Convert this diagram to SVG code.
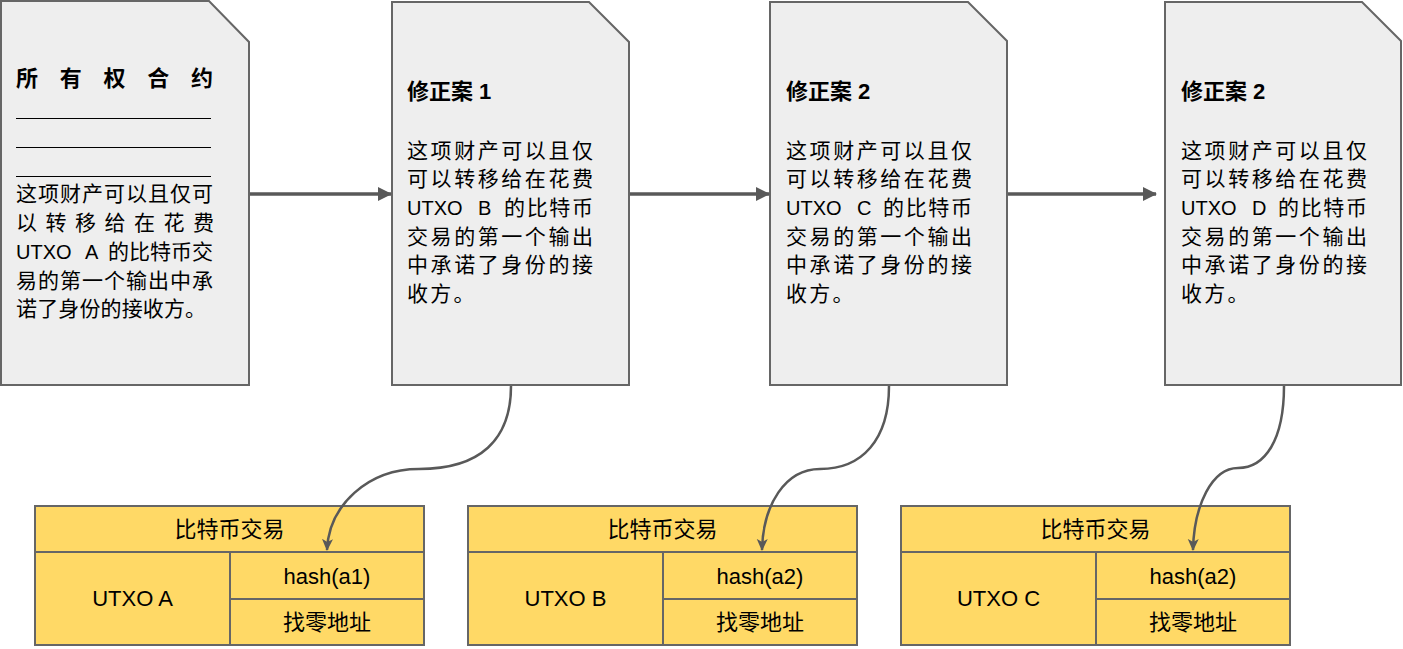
<svg xmlns="http://www.w3.org/2000/svg" width="1403" height="649" viewBox="0 0 1403 649">
<style>
.doc{fill:#eeeeee;stroke:#666666;stroke-width:2;}
.cell{fill:#ffd966;stroke:#666666;stroke-width:2;}
.t{font-family:"Liberation Sans","Noto Sans CJK SC",sans-serif;fill:#000000;}
.body{font-size:21px;}
.lat{font-size:20px;}
.title{font-size:22px;font-weight:bold;}
.tbl{font-size:22px;text-anchor:middle;}
.rule{stroke:#000000;stroke-width:1;}
.conn{fill:none;stroke:#595959;}
.straight{stroke-width:3.5;}
.curve{stroke-width:2.5;}
</style>
<defs>
<marker id="ah" viewBox="0 0 14 14" refX="13" refY="7" markerWidth="14" markerHeight="14" markerUnits="userSpaceOnUse" orient="auto">
<path d="M0,0 L14,7 L0,14 Z" fill="#595959"/>
</marker>
<marker id="ac" viewBox="0 0 12 12" refX="11" refY="6" markerWidth="12" markerHeight="12" markerUnits="userSpaceOnUse" orient="auto">
<path d="M0,0.5 L12,6 L0,11.5 L3,6 Z" fill="#595959"/>
</marker>
</defs>

<g id="doc1">
<path class="doc" d="M1,1 H209 L249,42 V385 H1 Z"/>
<text class="t title" x="16" y="86" textLength="197" lengthAdjust="spacing">所有权合约</text>
<line class="rule" x1="16" y1="118.5" x2="211" y2="118.5"/>
<line class="rule" x1="16" y1="147.5" x2="211" y2="147.5"/>
<line class="rule" x1="16" y1="176.5" x2="211" y2="176.5"/>
<text class="t body" x="16" y="200.5" textLength="197" lengthAdjust="spacing">这项财产可以且仅可</text>
<text class="t body" x="16 45.5 75 104.5 134 163.5 193" y="229.5">以转移给在花费</text>
<text class="t body" y="258.5"><tspan class="lat" x="16">UTXO</tspan><tspan class="lat" x="85">A</tspan><tspan x="108" textLength="105" lengthAdjust="spacing">的比特币交</tspan></text>
<text class="t body" x="16" y="287.5" textLength="197" lengthAdjust="spacing">易的第一个输出中承</text>
<text class="t body" x="16" y="316" textLength="190" lengthAdjust="spacing">诺了身份的接收方。</text>
</g>

<g id="doc2">
<path class="doc" d="M392,2 H589 L629,42 V385 H392 Z"/>
<text class="t title" x="407" y="99">修正案 1</text>
<text class="t body" x="407" y="157.5" textLength="186" lengthAdjust="spacing">这项财产可以且仅</text>
<text class="t body" x="407" y="186.2" textLength="186" lengthAdjust="spacing">可以转移给在花费</text>
<text class="t body" y="214.9"><tspan class="lat" x="407">UTXO</tspan><tspan class="lat" x="478">B</tspan><tspan x="504" textLength="89" lengthAdjust="spacing">的比特币</tspan></text>
<text class="t body" x="407" y="243.6" textLength="186" lengthAdjust="spacing">交易的第一个输出</text>
<text class="t body" x="407" y="272.3" textLength="186" lengthAdjust="spacing">中承诺了身份的接</text>
<text class="t body" x="407 430.3 453.6" y="301">收方。</text>
</g>

<g id="doc3">
<path class="doc" d="M770,2 H968 L1007,41 V385 H770 Z"/>
<text class="t title" x="786" y="99">修正案 2</text>
<text class="t body" x="786" y="157.5" textLength="186" lengthAdjust="spacing">这项财产可以且仅</text>
<text class="t body" x="786" y="186.2" textLength="186" lengthAdjust="spacing">可以转移给在花费</text>
<text class="t body" y="214.9"><tspan class="lat" x="786">UTXO</tspan><tspan class="lat" x="857">C</tspan><tspan x="883" textLength="89" lengthAdjust="spacing">的比特币</tspan></text>
<text class="t body" x="786" y="243.6" textLength="186" lengthAdjust="spacing">交易的第一个输出</text>
<text class="t body" x="786" y="272.3" textLength="186" lengthAdjust="spacing">中承诺了身份的接</text>
<text class="t body" x="786 809.3 832.6" y="301">收方。</text>
</g>

<g id="doc4">
<path class="doc" d="M1165,2 H1362 L1401,41 V385 H1165 Z"/>
<text class="t title" x="1181" y="99">修正案 2</text>
<text class="t body" x="1181" y="157.5" textLength="186" lengthAdjust="spacing">这项财产可以且仅</text>
<text class="t body" x="1181" y="186.2" textLength="186" lengthAdjust="spacing">可以转移给在花费</text>
<text class="t body" y="214.9"><tspan class="lat" x="1181">UTXO</tspan><tspan class="lat" x="1252">D</tspan><tspan x="1278" textLength="89" lengthAdjust="spacing">的比特币</tspan></text>
<text class="t body" x="1181" y="243.6" textLength="186" lengthAdjust="spacing">交易的第一个输出</text>
<text class="t body" x="1181" y="272.3" textLength="186" lengthAdjust="spacing">中承诺了身份的接</text>
<text class="t body" x="1181 1204.3 1227.6" y="301">收方。</text>
</g>

<g id="txA">
<rect class="cell" x="35" y="506" width="389" height="46"/>
<rect class="cell" x="35" y="552" width="195" height="93"/>
<rect class="cell" x="230" y="552" width="194" height="47"/>
<rect class="cell" x="230" y="599" width="194" height="46"/>
<text class="t tbl" x="229.5" y="537">比特币交易</text>
<text class="t tbl" x="132.5" y="606">UTXO A</text>
<text class="t tbl" x="327" y="583.5">hash(a1)</text>
<text class="t tbl" x="327" y="630">找零地址</text>
</g>

<g id="txB">
<rect class="cell" x="468" y="506" width="389" height="46"/>
<rect class="cell" x="468" y="552" width="195" height="93"/>
<rect class="cell" x="663" y="552" width="194" height="47"/>
<rect class="cell" x="663" y="599" width="194" height="46"/>
<text class="t tbl" x="662.5" y="537">比特币交易</text>
<text class="t tbl" x="565.5" y="606">UTXO B</text>
<text class="t tbl" x="760" y="583.5">hash(a2)</text>
<text class="t tbl" x="760" y="630">找零地址</text>
</g>

<g id="txC">
<rect class="cell" x="901" y="506" width="389" height="46"/>
<rect class="cell" x="901" y="552" width="195" height="93"/>
<rect class="cell" x="1096" y="552" width="194" height="47"/>
<rect class="cell" x="1096" y="599" width="194" height="46"/>
<text class="t tbl" x="1095.5" y="537">比特币交易</text>
<text class="t tbl" x="998.5" y="606">UTXO C</text>
<text class="t tbl" x="1193" y="583.5">hash(a2)</text>
<text class="t tbl" x="1193" y="630">找零地址</text>
</g>

<g id="connectors">
<path class="conn straight" d="M250,194 H391" marker-end="url(#ah)"/>
<path class="conn straight" d="M630,194 H769" marker-end="url(#ah)"/>
<path class="conn straight" d="M1008,194 H1156" marker-end="url(#ah)"/>
<path class="conn curve" d="M511,386 C511,440 480,469 419,469 C368,469 329,505 327,550" marker-end="url(#ac)"/>
<path class="conn curve" d="M889,386 C889,440 862,469 820,469 C785,469 763,505 762,550" marker-end="url(#ac)"/>
<path class="conn curve" d="M1284,386 C1284,440 1265,468 1238,468 C1212,468 1194,505 1193,550" marker-end="url(#ac)"/>
</g>
</svg>
